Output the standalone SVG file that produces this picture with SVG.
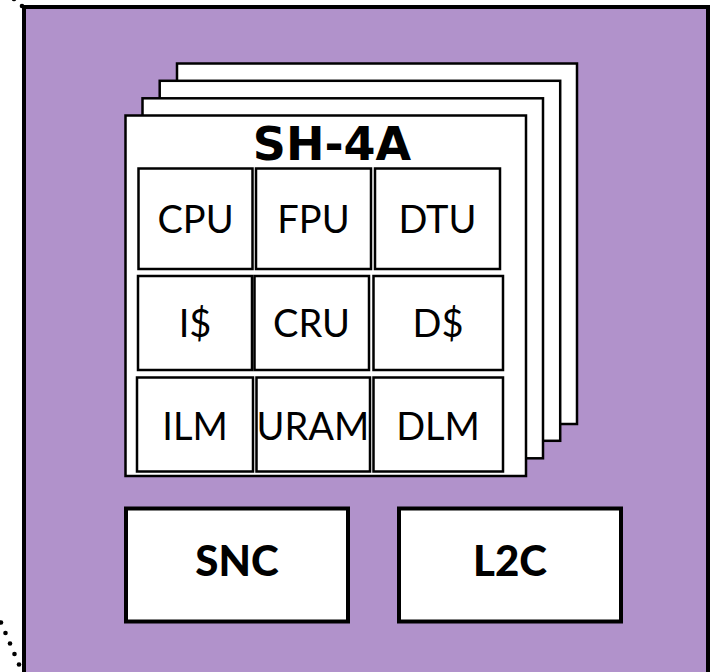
<svg xmlns="http://www.w3.org/2000/svg" width="716" height="672" viewBox="0 0 716 672">
<style>
.card{fill:#fff;stroke:#000;stroke-width:2.5}
.cell{fill:#fff;stroke:#000;stroke-width:2.5}
.blk{fill:#fff;stroke:#000;stroke-width:4}
.lbl{font-family:Lato,"Noto Sans",sans-serif;font-size:38px;fill:#000;text-anchor:middle}
.bl{font-family:Lato,"Noto Sans",sans-serif;font-weight:900;font-size:42px;fill:#000;text-anchor:middle}
.title{font-family:"DejaVu Sans",sans-serif;font-weight:bold;font-size:46px;fill:#000;text-anchor:middle}
.dot{fill:#000}
</style>
<g id="chip">
<rect x="24" y="7" width="684" height="680" fill="#b192cb" stroke="#000" stroke-width="4"/>
</g>
<g id="connectors">
<circle class="dot" cx="22" cy="6" r="2.3"/>
<circle class="dot" cx="14" cy="-1" r="2.3"/>
<circle class="dot" cx="1" cy="622.5" r="2.3"/>
<circle class="dot" cx="5.5" cy="633" r="2.3"/>
<circle class="dot" cx="10" cy="643.5" r="2.3"/>
<circle class="dot" cx="14.5" cy="654" r="2.3"/>
<circle class="dot" cx="19" cy="664.5" r="2.3"/>
</g>
<g id="sh4a-stack">
<rect class="card" x="177" y="63.5" width="400" height="360.5"/>
<rect class="card" x="159.7" y="80.8" width="400.5" height="360"/>
<rect class="card" x="142.5" y="98.3" width="400.5" height="360"/>
<rect class="card" x="125.5" y="115.5" width="400.5" height="360.5"/>
</g>
<g id="sh4a-title"><text class="title" x="332" y="160">SH-4A</text></g>
<g id="cpu"><rect class="cell" x="138.5" y="168.5" width="114" height="100.5"/><text class="lbl" x="195.5" y="232.5">CPU</text></g>
<g id="fpu"><rect class="cell" x="256" y="168.5" width="115" height="100.5"/><text class="lbl" x="313.5" y="232.5">FPU</text></g>
<g id="dtu"><rect class="cell" x="375" y="168.5" width="125" height="100.5"/><text class="lbl" x="437.5" y="232.5">DTU</text></g>
<g id="icache"><rect class="cell" x="138" y="276" width="114" height="94"/><text class="lbl" x="195" y="336.5">I$</text></g>
<g id="cru"><rect class="cell" x="254.5" y="276" width="114.5" height="94"/><text class="lbl" x="311.5" y="336.5">CRU</text></g>
<g id="dcache"><rect class="cell" x="373.5" y="276" width="129.5" height="94"/><text class="lbl" x="438" y="336.5">D$</text></g>
<g id="ilm"><rect class="cell" x="137" y="377.5" width="116" height="94"/><text class="lbl" x="195" y="439.5">ILM</text></g>
<g id="uram"><rect class="cell" x="256.5" y="377.5" width="113.5" height="94"/><text class="lbl" x="313" y="439.5">URAM</text></g>
<g id="dlm"><rect class="cell" x="373.5" y="377.5" width="129.5" height="94"/><text class="lbl" x="438" y="439.5">DLM</text></g>
<g id="snc"><rect class="blk" x="126" y="508.5" width="222" height="113"/><text class="bl" x="237" y="576">SNC</text></g>
<g id="l2c"><rect class="blk" x="399" y="508.5" width="222" height="113"/><text class="bl" x="510" y="576">L2C</text></g>
</svg>
